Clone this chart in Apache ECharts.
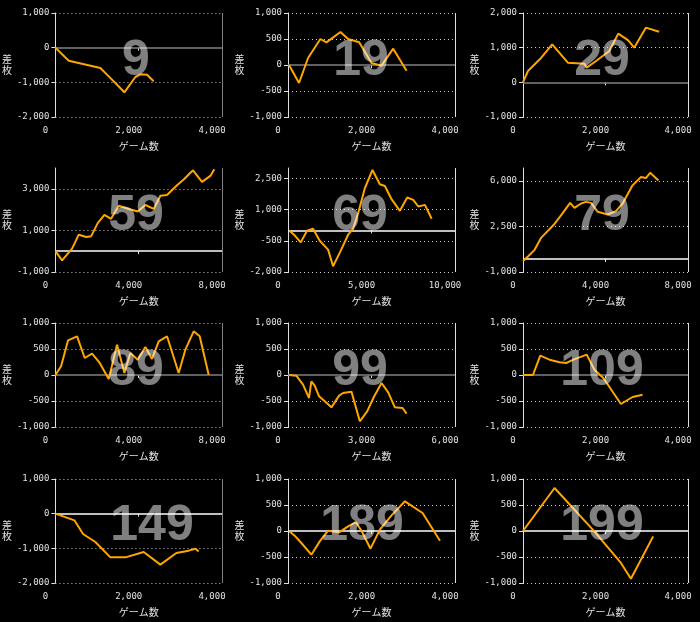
<!DOCTYPE html>
<html><head><meta charset="utf-8">
<script src="https://cdn.jsdelivr.net/npm/echarts@6/dist/echarts.min.js"></script>
<style>html,body{margin:0;padding:0;background:#000;}#c{width:700px;height:622px;}</style>
</head><body><div id="c"></div>
<script>
// ---- data ----
const panelLabels = ['9','19','29','59','69','79','89','99','109','149','189','199'];
const xMaxes = [4000,4000,4000,8000,10000,8000,8000,6000,4000,4000,4000,4000];
const xTickLabels = [
  [0,2000,4000],[0,2000,4000],[0,2000,4000],
  [0,4000,8000],[0,5000,10000],[0,4000,8000],
  [0,4000,8000],[0,3000,6000],[0,2000,4000],
  [0,2000,4000],[0,2000,4000],[0,2000,4000]
];
const yMins = [-2000,-1000,-1000,-1000,-2000,-1000,-1000,-1000,-1000,-2000,-1000,-1000];
const yMaxes = [1000,1000,2000,4000,3000,7000,1000,1000,1000,1000,1000,1000];
const yTickLabels = [
  [-2000,-1000,0,1000],[-1000,-500,0,500,1000],[-1000,0,1000,2000],
  [-1000,1000,3000],[-2000,-500,1000,2500],[-1000,2500,6000],
  [-1000,-500,0,500,1000],[-1000,-500,0,500,1000],[-1000,-500,0,500,1000],
  [-2000,-1000,0,1000],[-1000,-500,0,500,1000],[-1000,-500,0,500,1000]
];
const run9 = [[0,0],[320,-375],[1080,-587],[1280,-827],[1440,-1019],[1656,-1288],[1920,-846],[2040,-769],[2200,-779],[2360,-971]];
const run19 = [[24,0],[264,-346],[480,135],[776,500],[920,436],[1256,635],[1440,500],[1704,436],[2000,38],[2240,-13],[2520,314],[2840,-109]];
const run29 = [[0,0],[121,327],[443,711],[708,1096],[1087,567],[1489,538],[1545,423],[1771,615],[2093,904],[2310,1404],[2551,1211],[2696,1000],[2978,1577],[3300,1461]];
const run59 = [[0,0],[320,-444],[800,127],[1120,794],[1488,683],[1712,714],[2032,1349],[2352,1746],[2672,1556],[3040,2190],[3408,2063],[3952,1905],[4320,2222],[4720,2032],[5040,2667],[5360,2698],[5840,3174],[6160,3444],[6608,3889],[7040,3333],[7440,3619],[7632,3937]];
const run69 = [[60,0],[400,-239],[760,-575],[1140,-16],[1500,80],[1900,-495],[2400,-926],[2700,-1724],[3140,-1006],[3600,-208],[3900,80],[4200,830],[4600,2027],[5060,2905],[5500,2218],[5800,2138],[6200,1500],[6700,941],[7140,1579],[7500,1468],[7800,1148],[8200,1228],[8600,559]];
const run79 = [[0,-150],[241,196],[563,705],[885,1646],[1481,2613],[1851,3377],[2286,4319],[2495,3937],[2817,4267],[3058,4394],[3300,4318],[3622,3631],[4105,3427],[4507,3682],[4829,4267],[5312,5666],[5714,6300],[5956,6224],[6165,6631],[6567,6046]];
const run89 = [[0,0],[272,167],[608,667],[1040,744],[1408,327],[1760,410],[2128,231],[2560,-77],[2960,583],[3312,38],[3600,423],[3952,295],[4320,538],[4640,308],[4960,647],[5360,744],[5920,38],[6240,487],[6640,840],[6928,744],[7360,6]];
const run99 = [[36,0],[300,-13],[540,-186],[756,-442],[840,-122],[960,-205],[1116,-410],[1320,-506],[1560,-622],[1836,-397],[1980,-346],[2280,-320],[2580,-891],[2844,-699],[3084,-423],[3360,-154],[3600,-333],[3840,-622],[4116,-635],[4260,-744]];
const run109 = [[0,0],[241,0],[418,372],[644,295],[885,244],[1046,231],[1223,295],[1545,391],[1730,103],[1948,-58],[2374,-558],[2656,-423],[2898,-378]];
const run149 = [[0,0],[456,-192],[664,-587],[960,-817],[1320,-1260],[1680,-1260],[2120,-1106],[2520,-1471],[2904,-1135],[3200,-1067],[3360,-1010],[3440,-1087]];
const run189 = [[24,0],[160,-90],[320,-231],[560,-455],[760,-199],[960,6],[1224,-26],[1440,90],[1624,173],[1760,6],[1976,-340],[2200,26],[2480,301],[2800,571],[3224,346],[3640,-186]];
const run199 = [[0,0],[765,827],[1730,-6],[2374,-615],[2616,-917],[3155,-103]];
const runs = [run9,run19,run29,run59,run69,run79,run89,run99,run109,run149,run189,run199];

// ---- layout / style ----
const colLeft = [55, 288, 523];
const colWidth = [167, 167, 165];
const rowTop = [13, 168, 323, 479];
const plotH = 104;
const cellLeft = [0, 233, 466];
const cellTop = [0, 155, 310, 465];
const labelCx = [136,128,136,136,127,136,136,127,136,152,129,136];
const zeroColors = ['#808080','#808080','#808080','#ffffff','#ffffff','#ffffff','#808080','#808080','#808080','#ffffff','#ffffff','#ffffff'];
const rightColors = ['#808080','#e0e0e0','#e0e0e0','#808080','#e0e0e0','#e0e0e0','#808080','#e0e0e0','#e0e0e0','#808080','#e0e0e0','#e0e0e0'];
const tickFont = 'DejaVu Sans Mono';
const cjkFont = 'Noto Sans CJK JP';
const gridColor = '#cccccc';
const fmt = v => v.toLocaleString('en-US');

const grid = [], xAxis = [], yAxis = [], series = [], graphic = [];
runs.forEach((run, i) => {
  const r = Math.floor(i / 3), c = i % 3;
  grid.push({left: colLeft[c], top: rowTop[r], width: colWidth[c], height: plotH, containLabel: false});
  const xt = xTickLabels[i];
  const yt = yTickLabels[i];
  xAxis.push({
    type: 'value', gridIndex: i, min: 0, max: xMaxes[i],
    axisLine: {show: false},
    axisTick: {show: true, customValues: [xt[1]], length: 3, lineStyle: {color: '#e0e0e0'}},
    splitLine: {show: false},
    axisLabel: {customValues: xt, formatter: fmt, color: '#e0e0e0', fontFamily: tickFont, fontSize: 9, margin: 9, padding: [0, 20, 0, 0]},
    name: 'ゲーム数', nameLocation: 'middle', nameGap: 24,
    nameTextStyle: {color: '#e0e0e0', fontFamily: cjkFont, fontSize: 10}
  });
  yAxis.push({
    type: 'value', gridIndex: i, min: yMins[i], max: yMaxes[i],
    axisLine: {show: true, lineStyle: {color: '#e0e0e0', width: 1}},
    axisTick: {show: true, customValues: yt, length: 4, lineStyle: {color: '#e0e0e0'}},
    splitLine: {show: true, lineStyle: {color: yt.map(v => v === 0 ? 'rgba(0,0,0,0)' : gridColor), type: [1, 3], width: 1}},
    axisLabel: {customValues: yt, formatter: fmt, color: '#e0e0e0', fontFamily: tickFont, fontSize: 9, margin: 6},
    name: '差\n枚', nameLocation: 'middle', nameGap: 47, nameRotate: 0,
    nameTextStyle: {color: '#e0e0e0', fontFamily: cjkFont, fontSize: 10, align: 'center', verticalAlign: 'middle', lineHeight: 11}
  });
  // reference lines (zero line + right border), drawn beneath the data line
  series.push({
    type: 'line', xAxisIndex: i, yAxisIndex: i, data: run,
    showSymbol: false, symbol: 'none', silent: true, z: 1,
    lineStyle: {opacity: 0},
    markLine: {
      silent: true, symbol: 'none', animation: false, label: {show: false},
      data: [
        {yAxis: 0, lineStyle: {color: zeroColors[i], type: 'solid', width: 1.5}},
        {xAxis: xMaxes[i], lineStyle: {color: rightColors[i], type: 'solid', width: 1}}
      ]
    }
  });
  series.push({
    type: 'line', xAxisIndex: i, yAxisIndex: i, data: run,
    showSymbol: false, symbol: 'none', smooth: false, clip: true,
    lineStyle: {color: '#FFA500', width: 2}, z: 5
  });
  graphic.push({
    type: 'text', z: 100, silent: true,
    x: cellLeft[c] + labelCx[i], y: cellTop[r] + 61,
    style: {text: panelLabels[i], fill: 'rgba(255,255,255,0.5)', font: 'bold 50px "Liberation Sans", Arial, sans-serif',
      align: 'center', verticalAlign: 'middle', textAlign: 'center', textVerticalAlign: 'middle'}
  });
});

const chart = echarts.init(document.getElementById('c'), null, {renderer: 'canvas'});
chart.setOption({backgroundColor: '#000', animation: false, grid, xAxis, yAxis, series, graphic});
</script></body></html>
